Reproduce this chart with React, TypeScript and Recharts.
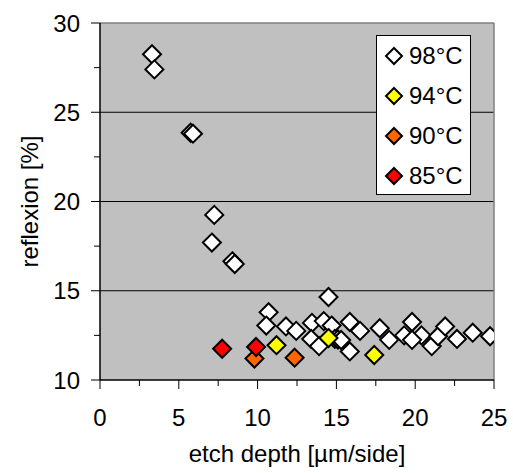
import { Legend, ReferenceLine, Scatter, ScatterChart, XAxis, YAxis, CartesianGrid } from 'recharts';

// 98°C series
const depth98 = [3.3, 3.45, 5.75, 5.9, 7.25, 7.1, 8.4, 8.55, 10.7, 10.55, 11.8, 12.45, 13.45, 13.4, 14.5, 14.2, 13.9, 14.7, 14.9, 15.1, 15.3, 15.85, 16.5, 15.85, 17.75, 18.35, 19.3, 19.8, 20.4, 19.8, 21.05, 21.45, 21.9, 22.65, 23.65, 24.75];
const refl98 = [28.25, 27.4, 23.85, 23.8, 19.25, 17.7, 16.65, 16.5, 13.8, 13.05, 13.0, 12.75, 13.2, 12.3, 14.65, 13.3, 11.9, 13.05, 12.3, 12.27, 12.24, 13.25, 12.75, 11.6, 12.9, 12.25, 12.5, 13.25, 12.5, 12.25, 11.9, 12.45, 13.0, 12.3, 12.65, 12.45];

// 94°C series
const depth94 = [11.2, 14.5, 17.4];
const refl94 = [11.95, 12.35, 11.4];

// 90°C series
const depth90 = [9.8, 12.35];
const refl90 = [11.2, 11.25];

// 85°C series
const depth85 = [7.75, 9.9];
const refl85 = [11.75, 11.85];

const xTicks = [0, 2.5, 5, 7.5, 10, 12.5, 15, 17.5, 20, 22.5, 25];
const yTicks = [10, 12.5, 15, 17.5, 20, 22.5, 25, 27.5, 30];
const gridValues = [15, 20, 25];

const FONT = '"Liberation Sans", Arial, sans-serif';

const toPoints = (xs: number[], ys: number[]) => xs.map((x, i) => ({ x, y: ys[i] }));

const series = [
    { name: '98°C', color: '#FFFFFF', data: toPoints(depth98, refl98) },
    { name: '94°C', color: '#FFFF00', data: toPoints(depth94, refl94) },
    { name: '90°C', color: '#FF6600', data: toPoints(depth90, refl90) },
    { name: '85°C', color: '#FF0000', data: toPoints(depth85, refl85) },
];

const Diamond = ({ cx, cy, color, r = 9 }: any) => (
    <polygon
        points={`${cx},${cy - r} ${cx + r},${cy} ${cx},${cy + r} ${cx - r},${cy}`}
        fill={color}
        stroke="#000"
        strokeWidth={2}
    />
);

const XTick = ({ x, y, payload }: any) => {
    const major = payload.value % 5 === 0;
    return (
        <g>
            <line x1={x} y1={y} x2={x} y2={y + (major ? 9 : 6)} stroke="#000" />
            {major && (
                <text x={x} y={y + 46} textAnchor="middle" fontSize={24} fontFamily={FONT} fill="#000">
                    {payload.value}
                </text>
            )}
        </g>
    );
};

const YTick = ({ x, y, payload }: any) => {
    const major = payload.value % 5 === 0;
    return (
        <g>
            <line x1={x - (major ? 9 : 6)} y1={y} x2={x} y2={y} stroke="#000" />
            {major && (
                <text x={x - 20} y={y + 8.5} textAnchor="end" fontSize={24} fontFamily={FONT} fill="#000">
                    {payload.value}
                </text>
            )}
        </g>
    );
};

const LegendBox = () => (
    <div
        style={{
            boxSizing: 'border-box',
            width: 95,
            height: 160,
            border: '1px solid #000',
            background: '#fff',
            fontFamily: FONT,
            fontSize: 24,
        }}
    >
        {series.map(s => (
            <div key={s.name} style={{ display: 'flex', alignItems: 'center', height: 40 }}>
                <svg width={20} height={20} style={{ marginLeft: 7 }}>
                    <Diamond cx={10} cy={10} r={8} color={s.color} />
                </svg>
                <span style={{ marginLeft: 5, lineHeight: '24px' }}>{s.name}</span>
            </div>
        ))}
    </div>
);

const App = () => {
    return (
        <div style={{ position: 'absolute', left: 0, top: 0, background: '#fff' }}>
            <ScatterChart width={513} height={473} margin={{ top: 23, right: 19, bottom: 0, left: 0 }}>
                <CartesianGrid fill="#C0C0C0" horizontal={false} vertical={false} stroke="none" />
                {gridValues.map(v => (
                    <ReferenceLine key={v} y={v} stroke="#000" strokeWidth={1} />
                ))}
                <ReferenceLine y={30} stroke="#808080" strokeWidth={1.5} />
                <ReferenceLine x={25} stroke="#808080" strokeWidth={1.5} />
                <XAxis
                    type="number"
                    dataKey="x"
                    domain={[0, 25]}
                    ticks={xTicks}
                    interval={0}
                    height={93}
                    tickSize={0}
                    tickMargin={0}
                    tick={<XTick />}
                    axisLine={{ stroke: '#000', strokeWidth: 1.5 }}
                    tickLine={false}
                    allowDataOverflow
                    label={{
                        content: ({ viewBox }: any) => (
                            <text
                                x={viewBox.x + viewBox.width / 2}
                                y={viewBox.y + 82}
                                textAnchor="middle"
                                fontSize={24}
                                fontFamily={FONT}
                                fill="#000"
                            >
                                etch depth [µm/side]
                            </text>
                        ),
                    }}
                />
                <YAxis
                    type="number"
                    dataKey="y"
                    domain={[10, 30]}
                    ticks={yTicks}
                    interval={0}
                    width={100}
                    tickSize={0}
                    tickMargin={0}
                    tick={<YTick />}
                    axisLine={{ stroke: '#000', strokeWidth: 1.5 }}
                    tickLine={false}
                    allowDataOverflow
                    label={{
                        content: ({ viewBox }: any) => {
                            const cx = 38;
                            const cy = viewBox.y + viewBox.height / 2;
                            return (
                                <text
                                    x={cx}
                                    y={cy}
                                    transform={`rotate(-90, ${cx}, ${cy})`}
                                    textAnchor="middle"
                                    fontSize={24}
                                    fontFamily={FONT}
                                    fill="#000"
                                >
                                    reflexion [%]
                                </text>
                            );
                        },
                    }}
                />
                {series.map(s => (
                    <Scatter
                        key={s.name}
                        name={s.name}
                        data={s.data}
                        fill={s.color}
                        isAnimationActive={false}
                        shape={(props: any) => <Diamond cx={props.cx} cy={props.cy} color={s.color} />}
                    />
                ))}
                <Legend
                    layout="vertical"
                    align="center"
                    verticalAlign="middle"
                    content={<LegendBox />}
                    wrapperStyle={{ left: 376, top: 35, width: 95, height: 160 }}
                />
            </ScatterChart>
        </div>
    );
};

export default App;
